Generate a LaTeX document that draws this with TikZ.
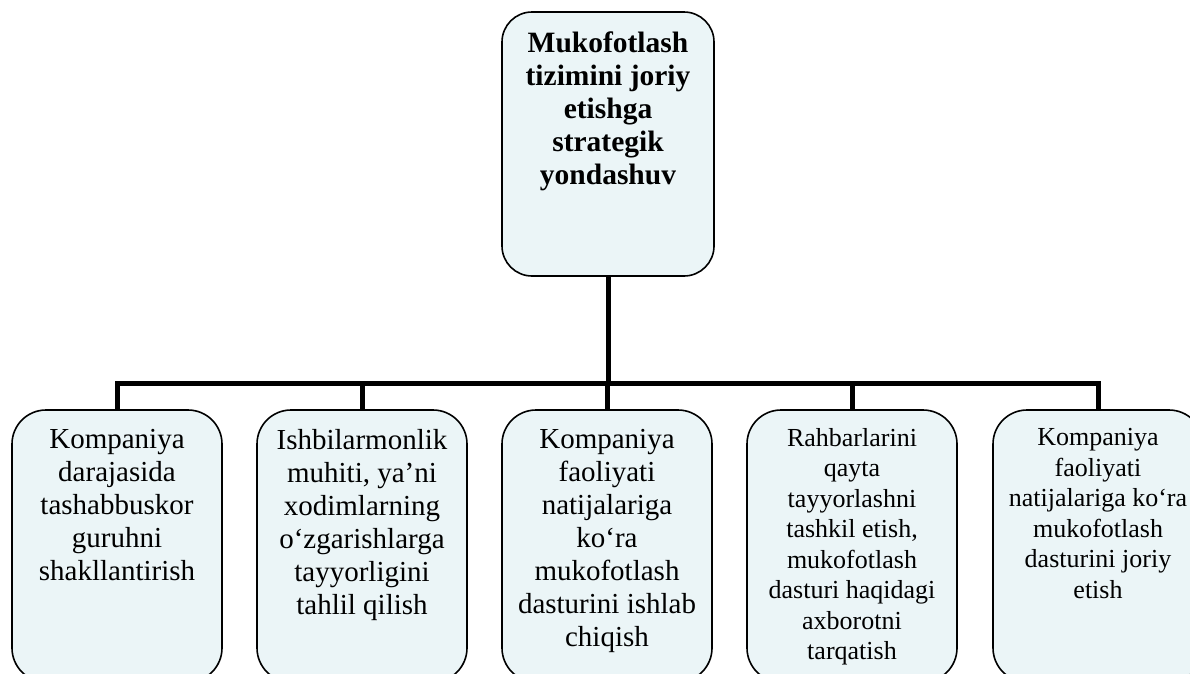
\documentclass[tikz,border=0pt]{standalone}
\usepackage{fontspec}
\setmainfont{Liberation Serif}
\usetikzlibrary{positioning}
\definecolor{boxfill}{RGB}{235,245,247}
\begin{document}
\begin{tikzpicture}[x=1pt,y=1pt,
  box/.style={draw=black, line width=1.6pt, fill=boxfill, rounded corners=34pt, inner sep=0pt, minimum width=210pt, minimum height=272pt},
  conn/.style={line width=5pt, line join=miter},
  txtA/.style={inner sep=0pt, align=center, font=\fontsize{29}{33}\selectfont},
  txtB/.style={inner sep=0pt, align=center, font=\fontsize{26}{30.5}\selectfont},
  toptxt/.style={inner sep=0pt, align=center, font=\fontsize{29.5}{33}\selectfont\bfseries}]
\useasboundingbox (0,0) rectangle (1190,-673);
\clip (0,0) rectangle (1190,-673);
% top box
\node[box, minimum width=212pt, minimum height=264pt, rounded corners=30pt] (top) at (608,-144) {};
\node[toptxt, anchor=north, below=20.5pt of top.north] (toptext) {Mukofotlash\\tizimini joriy\\etishga\\strategik\\yondashuv};
% bottom boxes
\node[box] (b1) at (117,-546) {};
\node[box] (b2) at (362,-546) {};
\node[box] (b3) at (607,-546) {};
\node[box] (b4) at (852,-546) {};
\node[box] (b5) at (1098,-546) {};
\node[txtA, below=20pt of b1.north] (t1) {Kompaniya\\darajasida\\tashabbuskor\\guruhni\\shakllantirish};
\node[txtA, below=20pt of b2.north] (t2) {Ishbilarmonlik\\muhiti, ya’ni\\xodimlarning\\o‘zgarishlarga\\tayyorligini\\tahlil qilish};
\node[txtA, below=20pt of b3.north] (t3) {Kompaniya\\faoliyati\\natijalariga\\ko‘ra\\mukofotlash\\dasturini ishlab\\chiqish};
\node[txtB, below=19pt of b4.north] (t4) {Rahbarlarini\\qayta\\tayyorlashni\\tashkil etish,\\mukofotlash\\dasturi haqidagi\\axborotni\\tarqatish};
\node[txtB, below=19pt of b5.north] (t5) {Kompaniya\\faoliyati\\natijalariga ko‘ra\\mukofotlash\\dasturini joriy\\etish};
% connectors
\coordinate (bus) at (607,-383);
\draw[conn] (top.south) -- (top.south |- bus);
\draw[conn] (b1.north) -- (b1.north |- bus) -- (b5.north |- bus) -- (b5.north);
\draw[conn] (b2.north) -- (b2.north |- bus);
\draw[conn] (b3.north) -- (b3.north |- bus);
\draw[conn] (b4.north) -- (b4.north |- bus);
\end{tikzpicture}
\end{document}
